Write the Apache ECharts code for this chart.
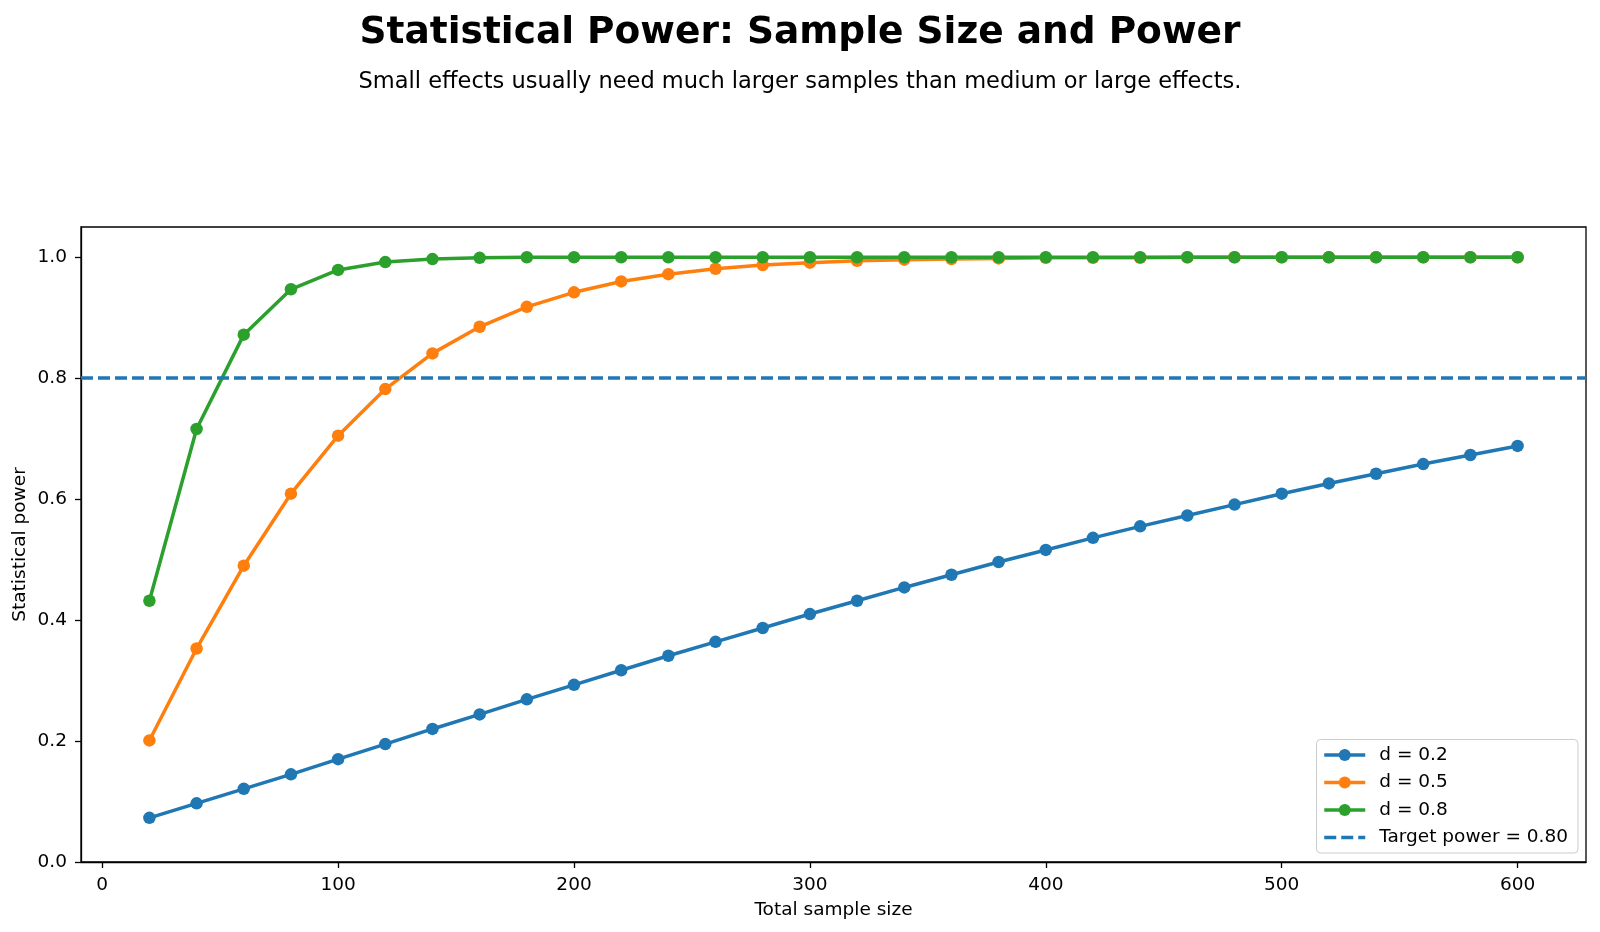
<!DOCTYPE html>
<html>
<head>
<meta charset="utf-8">
<script src="https://cdn.jsdelivr.net/npm/echarts@6/dist/echarts.min.js"></script>
<style>
  html, body { margin: 0; padding: 0; background: #fff; }
  #chart { width: 1600px; height: 932px; }
</style>
</head>
<body>
<div id="chart"></div>
<script>
// values
const sampleSizes = [20, 40, 60, 80, 100, 120, 140, 160, 180, 200, 220, 240, 260, 280, 300,
    320, 340, 360, 380, 400, 420, 440, 460, 480, 500, 520, 540, 560, 580, 600];
const powerSmall = [0.073, 0.097, 0.121, 0.145, 0.170, 0.195, 0.220, 0.244, 0.269, 0.293,
    0.317, 0.341, 0.364, 0.387, 0.410, 0.432, 0.454, 0.475, 0.496, 0.516,
    0.536, 0.555, 0.573, 0.591, 0.609, 0.626, 0.642, 0.658, 0.673, 0.688];
const powerMedium = [0.201, 0.353, 0.490, 0.609, 0.705, 0.782, 0.841, 0.885, 0.918, 0.942,
    0.960, 0.972, 0.981, 0.987, 0.991, 0.994, 0.996, 0.997, 0.998, 0.999,
    0.999, 0.999, 1.0, 1.0, 1.0, 1.0, 1.0, 1.0, 1.0, 1.0];
const powerLarge = [0.432, 0.716, 0.872, 0.947, 0.979, 0.992, 0.997, 0.999, 1.0, 1.0,
    1.0, 1.0, 1.0, 1.0, 1.0, 1.0, 1.0, 1.0, 1.0, 1.0,
    1.0, 1.0, 1.0, 1.0, 1.0, 1.0, 1.0, 1.0, 1.0, 1.0];
const seriesNames = ['d = 0.2', 'd = 0.5', 'd = 0.8'];
const targetPower = 0.8;
const targetName = 'Target power = 0.80';
const xTicks = [0, 100, 200, 300, 400, 500, 600];
const yTicks = [0, 0.2, 0.4, 0.6, 0.8, 1.0];

const colors = ['#1f77b4', '#ff7f0e', '#2ca02c'];
const font = 'DejaVu Sans';
const labelSize = 18.5;

function pairs(ys) {
    return sampleSizes.map((x, i) => [x, ys[i]]);
}

const chart = echarts.init(document.getElementById('chart'), null, {renderer: 'canvas'});

const lineSeries = [powerSmall, powerMedium, powerLarge].map((ys, i) => ({
    name: seriesNames[i],
    type: 'line',
    data: pairs(ys),
    symbol: 'circle',
    symbolSize: 12.5,
    showSymbol: true,
    itemStyle: { color: colors[i] },
    lineStyle: { color: colors[i], width: 3.5 },
    emphasis: { disabled: true }
}));

const option = {
    animation: false,
    backgroundColor: '#fff',
    textStyle: { fontFamily: font },
    title: [
        {
            text: 'Statistical Power: Sample Size and Power',
            left: 'center',
            top: 9,
            textStyle: { fontFamily: font, fontSize: 37.5, fontWeight: 'bold', color: '#000', lineHeight: 38 }
        },
        {
            text: 'Small effects usually need much larger samples than medium or large effects.',
            left: 'center',
            top: 66,
            textStyle: { fontFamily: font, fontSize: 22.5, fontWeight: 'normal', color: '#000', lineHeight: 22 }
        }
    ],
    grid: {
        left: 81,
        right: 14,
        top: 227,
        bottom: 70,
        show: true,
        borderColor: '#000',
        borderWidth: 1.3,
        containLabel: false
    },
    legend: {
        orient: 'vertical',
        right: 22,
        bottom: 79,
        data: [
            seriesNames[0],
            seriesNames[1],
            seriesNames[2],
            { name: targetName, itemStyle: { opacity: 0 } }
        ],
        itemWidth: 41,
        itemHeight: 15,
        itemGap: 6.5,
        padding: [5, 10, 5, 6],
        backgroundColor: 'rgba(255,255,255,0.8)',
        borderColor: '#cccccc',
        borderWidth: 1,
        borderRadius: 4,
        lineStyle: { width: 3.5 },
        textStyle: { fontFamily: font, fontSize: labelSize, color: '#000', lineHeight: 21, padding: [0, 0, 0, 9] }
    },
    xAxis: {
        type: 'value',
        min: -9,
        max: 629,
        name: 'Total sample size',
        nameLocation: 'middle',
        nameGap: 39,
        nameTextStyle: { fontFamily: font, fontSize: labelSize, color: '#000' },
        splitLine: { show: false },
        axisLine: { show: true, onZero: false, lineStyle: { color: '#000', width: 1.3 } },
        axisTick: { show: true, customValues: xTicks, length: 6, lineStyle: { color: '#000', width: 1.3 } },
        axisLabel: { customValues: xTicks, margin: 14, fontFamily: font, fontSize: labelSize, color: '#000' }
    },
    yAxis: {
        type: 'value',
        min: 0,
        max: 1.05,
        name: 'Statistical power',
        nameLocation: 'middle',
        nameGap: 51,
        nameMoveOverlap: false,
        nameTextStyle: { fontFamily: font, fontSize: labelSize, color: '#000' },
        splitLine: { show: false },
        axisLine: { show: true, onZero: false, lineStyle: { color: '#000', width: 1.3 } },
        axisTick: { show: true, customValues: yTicks, length: 6, lineStyle: { color: '#000', width: 1.3 } },
        axisLabel: {
            customValues: yTicks,
            margin: 14,
            fontFamily: font,
            fontSize: labelSize,
            color: '#000',
            formatter: v => v.toFixed(1)
        }
    },
    series: lineSeries.concat([{
        name: targetName,
        type: 'line',
        data: [],
        symbol: 'none',
        itemStyle: { color: colors[0] },
        lineStyle: { color: colors[0], width: 3.5, type: [12, 5] },
        markLine: {
            silent: true,
            symbol: ['none', 'none'],
            label: { show: false },
            lineStyle: { color: colors[0], width: 3.5, type: [12, 5] },
            emphasis: { disabled: true },
            data: [{ yAxis: targetPower }]
        }
    }])
};

chart.setOption(option);
window.addEventListener('resize', function() {
    chart.resize();
});
</script>
</body>
</html>
